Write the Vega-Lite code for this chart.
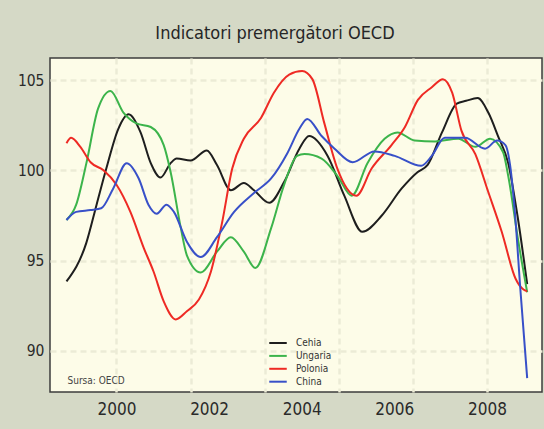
{
  "$schema": "https://vega.github.io/schema/vega-lite/v6.json",
  "width": 492,
  "height": 334,
  "autosize": {"type": "none"},
  "padding": {"left": 50, "top": 58, "right": 2, "bottom": 37},
  "background": "#d5d9c6",
  "title": {
    "text": "Indicatori premergători OECD",
    "anchor": "middle",
    "dx": -21,
    "offset": 15,
    "fontSize": 18,
    "font": "Liberation Sans Narrow, DejaVu Sans Condensed, sans-serif",
    "fontWeight": "normal",
    "color": "#262626"
  },
  "data": {
    "values": [
      {"c": "Cehia", "t": 1998.92, "v": 93.85},
      {"c": "Cehia", "t": 1999.35, "v": 96.0},
      {"c": "Cehia", "t": 1999.57, "v": 98.1},
      {"c": "Cehia", "t": 1999.78, "v": 100.1},
      {"c": "Cehia", "t": 2000.04, "v": 102.3},
      {"c": "Cehia", "t": 2000.26, "v": 103.1},
      {"c": "Cehia", "t": 2000.52, "v": 102.1},
      {"c": "Cehia", "t": 2000.74, "v": 100.4},
      {"c": "Cehia", "t": 2000.95, "v": 99.6},
      {"c": "Cehia", "t": 2001.17, "v": 100.4},
      {"c": "Cehia", "t": 2001.3, "v": 100.65},
      {"c": "Cehia", "t": 2001.6, "v": 100.55},
      {"c": "Cehia", "t": 2001.95, "v": 101.1},
      {"c": "Cehia", "t": 2002.17, "v": 100.3},
      {"c": "Cehia", "t": 2002.47, "v": 98.9},
      {"c": "Cehia", "t": 2002.75, "v": 99.3},
      {"c": "Cehia", "t": 2002.97, "v": 98.9},
      {"c": "Cehia", "t": 2003.3, "v": 98.2},
      {"c": "Cehia", "t": 2003.62, "v": 99.35},
      {"c": "Cehia", "t": 2003.95, "v": 101.2},
      {"c": "Cehia", "t": 2004.16, "v": 101.9},
      {"c": "Cehia", "t": 2004.56, "v": 100.8},
      {"c": "Cehia", "t": 2004.92, "v": 98.6},
      {"c": "Cehia", "t": 2005.31, "v": 96.6},
      {"c": "Cehia", "t": 2005.73, "v": 97.5},
      {"c": "Cehia", "t": 2006.16, "v": 99.0},
      {"c": "Cehia", "t": 2006.5, "v": 99.9},
      {"c": "Cehia", "t": 2006.72, "v": 100.3},
      {"c": "Cehia", "t": 2007.03, "v": 102.1},
      {"c": "Cehia", "t": 2007.35, "v": 103.7},
      {"c": "Cehia", "t": 2007.55, "v": 103.85},
      {"c": "Cehia", "t": 2007.8, "v": 104.0},
      {"c": "Cehia", "t": 2008.03, "v": 103.2},
      {"c": "Cehia", "t": 2008.24, "v": 101.9},
      {"c": "Cehia", "t": 2008.46, "v": 100.4},
      {"c": "Cehia", "t": 2008.66, "v": 97.5},
      {"c": "Cehia", "t": 2008.87, "v": 93.7},

      {"c": "Ungaria", "t": 1998.92, "v": 97.25},
      {"c": "Ungaria", "t": 1999.13, "v": 98.1},
      {"c": "Ungaria", "t": 1999.35, "v": 100.4},
      {"c": "Ungaria", "t": 1999.6, "v": 103.4},
      {"c": "Ungaria", "t": 1999.87, "v": 104.4},
      {"c": "Ungaria", "t": 2000.15, "v": 103.2},
      {"c": "Ungaria", "t": 2000.43, "v": 102.6},
      {"c": "Ungaria", "t": 2000.74, "v": 102.4},
      {"c": "Ungaria", "t": 2001.02, "v": 101.4},
      {"c": "Ungaria", "t": 2001.17, "v": 99.9},
      {"c": "Ungaria", "t": 2001.39, "v": 96.8},
      {"c": "Ungaria", "t": 2001.52, "v": 95.3},
      {"c": "Ungaria", "t": 2001.82, "v": 94.35},
      {"c": "Ungaria", "t": 2002.17, "v": 95.5},
      {"c": "Ungaria", "t": 2002.47, "v": 96.3},
      {"c": "Ungaria", "t": 2002.75, "v": 95.5},
      {"c": "Ungaria", "t": 2003.0, "v": 94.6},
      {"c": "Ungaria", "t": 2003.34, "v": 96.8},
      {"c": "Ungaria", "t": 2003.62, "v": 99.2},
      {"c": "Ungaria", "t": 2003.9, "v": 100.8},
      {"c": "Ungaria", "t": 2004.06, "v": 100.9},
      {"c": "Ungaria", "t": 2004.43, "v": 100.65},
      {"c": "Ungaria", "t": 2004.77, "v": 99.7},
      {"c": "Ungaria", "t": 2005.08, "v": 98.6},
      {"c": "Ungaria", "t": 2005.42, "v": 100.4},
      {"c": "Ungaria", "t": 2005.79, "v": 101.75},
      {"c": "Ungaria", "t": 2006.07, "v": 102.1},
      {"c": "Ungaria", "t": 2006.44, "v": 101.65},
      {"c": "Ungaria", "t": 2006.88, "v": 101.6},
      {"c": "Ungaria", "t": 2007.38, "v": 101.75},
      {"c": "Ungaria", "t": 2007.75, "v": 101.3},
      {"c": "Ungaria", "t": 2008.07, "v": 101.75},
      {"c": "Ungaria", "t": 2008.35, "v": 101.0},
      {"c": "Ungaria", "t": 2008.46, "v": 99.7},
      {"c": "Ungaria", "t": 2008.68, "v": 96.05},
      {"c": "Ungaria", "t": 2008.87, "v": 93.25},

      {"c": "Polonia", "t": 1998.92, "v": 101.5},
      {"c": "Polonia", "t": 1999.02, "v": 101.8},
      {"c": "Polonia", "t": 1999.22, "v": 101.3},
      {"c": "Polonia", "t": 1999.44, "v": 100.45},
      {"c": "Polonia", "t": 1999.72, "v": 100.0},
      {"c": "Polonia", "t": 2000.0, "v": 99.2},
      {"c": "Polonia", "t": 2000.3, "v": 97.7},
      {"c": "Polonia", "t": 2000.59, "v": 95.7},
      {"c": "Polonia", "t": 2000.8, "v": 94.4},
      {"c": "Polonia", "t": 2001.02, "v": 92.75},
      {"c": "Polonia", "t": 2001.28, "v": 91.75},
      {"c": "Polonia", "t": 2001.52, "v": 92.2},
      {"c": "Polonia", "t": 2001.78, "v": 92.85},
      {"c": "Polonia", "t": 2002.04, "v": 94.4},
      {"c": "Polonia", "t": 2002.28, "v": 97.1},
      {"c": "Polonia", "t": 2002.5, "v": 100.1},
      {"c": "Polonia", "t": 2002.75, "v": 101.75},
      {"c": "Polonia", "t": 2003.12, "v": 102.9},
      {"c": "Polonia", "t": 2003.4, "v": 104.3},
      {"c": "Polonia", "t": 2003.73, "v": 105.3},
      {"c": "Polonia", "t": 2004.01, "v": 105.5},
      {"c": "Polonia", "t": 2004.23, "v": 105.05},
      {"c": "Polonia", "t": 2004.49, "v": 102.6},
      {"c": "Polonia", "t": 2004.77, "v": 100.1},
      {"c": "Polonia", "t": 2005.18, "v": 98.6},
      {"c": "Polonia", "t": 2005.51, "v": 100.1},
      {"c": "Polonia", "t": 2005.94, "v": 101.4},
      {"c": "Polonia", "t": 2006.23, "v": 102.4},
      {"c": "Polonia", "t": 2006.51, "v": 103.9},
      {"c": "Polonia", "t": 2006.81, "v": 104.6},
      {"c": "Polonia", "t": 2007.05, "v": 105.05},
      {"c": "Polonia", "t": 2007.25, "v": 104.3},
      {"c": "Polonia", "t": 2007.45, "v": 102.2},
      {"c": "Polonia", "t": 2007.75, "v": 100.9},
      {"c": "Polonia", "t": 2008.03, "v": 98.8},
      {"c": "Polonia", "t": 2008.32, "v": 96.6},
      {"c": "Polonia", "t": 2008.62, "v": 94.0},
      {"c": "Polonia", "t": 2008.79, "v": 93.4},
      {"c": "Polonia", "t": 2008.87, "v": 93.3},

      {"c": "China", "t": 1998.92, "v": 97.25},
      {"c": "China", "t": 1999.13, "v": 97.7},
      {"c": "China", "t": 1999.44, "v": 97.8},
      {"c": "China", "t": 1999.67, "v": 97.9},
      {"c": "China", "t": 1999.93, "v": 99.0},
      {"c": "China", "t": 2000.22, "v": 100.4},
      {"c": "China", "t": 2000.48, "v": 99.55},
      {"c": "China", "t": 2000.69, "v": 98.1},
      {"c": "China", "t": 2000.87, "v": 97.6},
      {"c": "China", "t": 2001.08, "v": 98.1},
      {"c": "China", "t": 2001.24, "v": 97.7},
      {"c": "China", "t": 2001.52, "v": 96.05},
      {"c": "China", "t": 2001.82, "v": 95.2},
      {"c": "China", "t": 2002.17, "v": 96.3},
      {"c": "China", "t": 2002.54, "v": 97.7},
      {"c": "China", "t": 2002.97, "v": 98.75},
      {"c": "China", "t": 2003.34, "v": 99.55},
      {"c": "China", "t": 2003.69, "v": 100.95},
      {"c": "China", "t": 2003.95, "v": 102.3},
      {"c": "China", "t": 2004.12, "v": 102.85},
      {"c": "China", "t": 2004.43, "v": 101.9},
      {"c": "China", "t": 2004.71, "v": 101.2},
      {"c": "China", "t": 2005.1, "v": 100.45},
      {"c": "China", "t": 2005.57, "v": 101.05},
      {"c": "China", "t": 2006.01, "v": 100.8},
      {"c": "China", "t": 2006.58, "v": 100.25},
      {"c": "China", "t": 2006.81, "v": 100.8},
      {"c": "China", "t": 2007.09, "v": 101.8},
      {"c": "China", "t": 2007.53, "v": 101.8},
      {"c": "China", "t": 2007.96, "v": 101.2},
      {"c": "China", "t": 2008.22, "v": 101.65},
      {"c": "China", "t": 2008.4, "v": 101.4},
      {"c": "China", "t": 2008.5, "v": 100.3},
      {"c": "China", "t": 2008.61, "v": 97.5},
      {"c": "China", "t": 2008.72, "v": 93.5},
      {"c": "China", "t": 2008.87, "v": 88.5}
    ]
  },
  "layer": [
    {
      "mark": {"type": "line", "strokeOpacity": 0},
      "encoding": {
        "x": {
          "field": "t",
          "type": "quantitative",
          "scale": {"domain": [1998.564, 2009.19], "nice": false, "zero": false},
          "axis": {
            "orient": "bottom",
            "values": [2000, 2001.6, 2003.2, 2004.8, 2006.4, 2008],
            "labels": false,
            "ticks": false,
            "domain": false,
            "grid": true,
            "title": null
          }
        },
        "y": {"field": "v", "type": "quantitative"}
      }
    },
    {
      "mark": {"type": "line", "interpolate": "monotone", "strokeWidth": 2},
      "encoding": {
        "x": {
          "field": "t",
          "type": "quantitative",
          "axis": {
            "orient": "bottom",
            "values": [2000, 2002, 2004, 2006, 2008],
            "format": "d",
            "grid": false,
            "ticks": false,
            "domain": false,
            "labelFontSize": 17,
            "labelPadding": 9,
            "title": "Sursa: OECD",
            "titleX": 17,
            "titleY": -12,
            "titleAlign": "left",
            "titleBaseline": "middle",
            "titleFontSize": 10,
            "titleFontWeight": "normal",
            "titleColor": "#444444",
            "titleFont": "Liberation Sans Narrow, DejaVu Sans Condensed, sans-serif"
          }
        },
        "y": {
          "field": "v",
          "type": "quantitative",
          "scale": {"domain": [87.73, 106.22], "nice": false, "zero": false},
          "axis": {
            "values": [90, 95, 100, 105],
            "grid": true,
            "ticks": false,
            "domain": false,
            "labelFontSize": 15.5,
            "labelPadding": 6,
            "title": null
          }
        },
        "color": {
          "field": "c",
          "type": "nominal",
          "scale": {
            "domain": ["Cehia", "Ungaria", "Polonia", "China"],
            "range": ["#1e1e1e", "#3cb44b", "#ee2a24", "#3850c8"]
          },
          "legend": {
            "orient": "none",
            "legendX": 223,
            "legendY": 280,
            "title": null,
            "padding": 0,
            "symbolType": "M-2.5,0L2.5,0",
            "symbolSize": 49,
            "symbolStrokeWidth": 2,
            "labelOffset": 13,
            "labelFontSize": 10,
            "labelFont": "Liberation Sans Narrow, DejaVu Sans Condensed, sans-serif",
            "labelColor": "#333333",
            "rowPadding": 2.9
          }
        }
      }
    }
  ],
  "resolve": {"axis": {"x": "independent"}},
  "config": {
    "view": {"stroke": "#3c3c3c", "strokeWidth": 1.5, "fill": "#fdfce8"},
    "axis": {
      "labelFont": "Liberation Sans Narrow, DejaVu Sans Condensed, sans-serif",
      "labelColor": "#2a2a2a",
      "gridColor": "#ecebd6",
      "gridDash": [6, 4],
      "gridWidth": 2.5,
      "gridOpacity": 1
    }
  }
}
